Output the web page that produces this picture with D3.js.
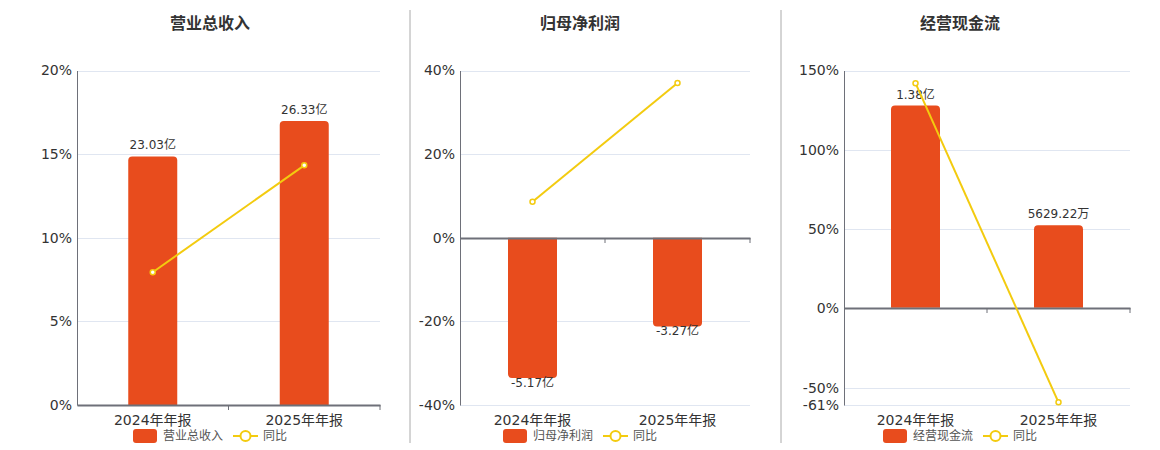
<!DOCTYPE html>
<html>
<head>
<meta charset="utf-8">
<script src="https://cdn.jsdelivr.net/npm/d3@7/dist/d3.min.js"></script>
<style>
  body { margin: 0; background: #fff; }
  svg text { font-family: "DejaVu Sans", "Noto Sans CJK SC", sans-serif; }
</style>
</head>
<body>
<svg id="chart" width="1160" height="450"></svg>
<script>
// Data
const categories = ["2024年年报", "2025年年报"];
const titles = ["营业总收入", "归母净利润", "经营现金流"];
const barNames = ["营业总收入", "归母净利润", "经营现金流"];
// bar values (亿元 for first two, 万元 for cash flow)
const revenue = [23.03, 26.33];
const netProfit = [-5.17, -3.27];
const cashFlow = [13800, 5629.22];
const barLabels = [["23.03亿", "26.33亿"], ["-5.17亿", "-3.27亿"], ["1.38亿", "5629.22万"]];
// 同比 (%)
const yoyRevenue = [7.94, 14.33];
const yoyProfit = [8.6, 37.0];
const yoyCash = [142, -59.3];
// left axis domains and ticks
const pctDomains = [[0, 20], [-40, 40], [-61, 150]];
const pctTicks = [[0, 5, 10, 15, 20], [-40, -20, 0, 20, 40], [-61, -50, 0, 50, 100, 150]];
// hidden bar axis domains (aligned at zero with left axis)
const barDomains = [[0, 31], [-6.17, 6.17], [-6640, 16190]];

const barColor = "#e84c1d";
const lineColor = "#f3cb0f";

const svg = d3.select("#chart");

// Panel placement
const panels = [
  { x0: 77, x1: 380, center: 210 },
  { x0: 460, x1: 750, center: 580 },
  { x0: 844, x1: 1130, center: 960 }
];
const plotTop = 70.5, plotBottom = 405;

const barsAll = [revenue, netProfit, cashFlow];
const yoyAll = [yoyRevenue, yoyProfit, yoyCash];

// Dividers between panels
[410, 781].forEach(x => {
  svg.append("line")
    .attr("x1", x).attr("x2", x)
    .attr("y1", 10).attr("y2", 443)
    .attr("stroke", "#aaa").attr("stroke-width", 1);
});

panels.forEach((p, i) => {
  const g = svg.append("g");

  const xScale = d3.scaleBand()
    .domain(categories)
    .range([p.x0, p.x1]);

  const yPct = d3.scaleLinear()
    .domain(pctDomains[i])
    .range([plotBottom, plotTop]);

  const yBar = d3.scaleLinear()
    .domain(barDomains[i])
    .range([plotBottom, plotTop]);

  // Title
  g.append("text")
    .attr("x", p.center)
    .attr("y", 29)
    .attr("text-anchor", "middle")
    .attr("fill", "#333")
    .style("font-size", "16px")
    .style("font-weight", "bold")
    .text(titles[i]);

  // Gridlines
  g.selectAll(".grid")
    .data(pctTicks[i])
    .enter().append("line")
    .attr("x1", p.x0).attr("x2", p.x1)
    .attr("y1", d => Math.round(yPct(d)) + 0.5)
    .attr("y2", d => Math.round(yPct(d)) + 0.5)
    .attr("stroke", "#e0e6f1");

  // Left axis
  const yAxis = d3.axisLeft(yPct)
    .tickValues(pctTicks[i])
    .tickSize(0)
    .tickPadding(5)
    .tickFormat(d => d + "%");
  const ya = g.append("g")
    .attr("transform", `translate(${p.x0},0)`)
    .call(yAxis);
  ya.select(".domain").attr("stroke", "#6e7079");
  ya.selectAll("text")
    .attr("fill", "#333")
    .style("font-size", "14px");

  // Bars
  const bw = 49;
  g.selectAll(".bar")
    .data(barsAll[i])
    .enter().append("path")
    .attr("fill", barColor)
    .attr("d", (d, j) => {
      const cx = xScale(categories[j]) + xScale.bandwidth() / 2;
      const x = cx - bw / 2;
      const y0 = yBar(0), y1 = yBar(d);
      const r = 4;
      if (d >= 0) {
        return `M${x},${y0}V${y1 + r}Q${x},${y1} ${x + r},${y1}H${x + bw - r}Q${x + bw},${y1} ${x + bw},${y1 + r}V${y0}Z`;
      }
      return `M${x},${y0}V${y1 - r}Q${x},${y1} ${x + r},${y1}H${x + bw - r}Q${x + bw},${y1} ${x + bw},${y1 - r}V${y0}Z`;
    });

  // Bar labels
  g.selectAll(".blabel")
    .data(barsAll[i])
    .enter().append("text")
    .attr("x", (d, j) => xScale(categories[j]) + xScale.bandwidth() / 2)
    .attr("y", d => d >= 0 ? yBar(d) - 7 : yBar(d) + 9)
    .attr("text-anchor", "middle")
    .attr("fill", "#333")
    .style("font-size", "12px")
    .text((d, j) => barLabels[i][j]);

  // X axis at zero
  const xAxis = d3.axisBottom(xScale).tickSize(0).tickFormat("");
  const zeroY = Math.round(yPct(0));
  const xa = g.append("g")
    .attr("transform", `translate(0,${zeroY})`)
    .call(xAxis);
  xa.select(".domain").attr("stroke", "#6e7079").attr("stroke-width", 2);
  // band boundary ticks
  const bounds = [p.x0 + xScale.bandwidth(), p.x1];
  g.selectAll(".xtick")
    .data(bounds)
    .enter().append("line")
    .attr("x1", d => d).attr("x2", d => d)
    .attr("y1", zeroY).attr("y2", zeroY + 5)
    .attr("stroke", "#6e7079");

  // Category labels at bottom
  g.selectAll(".cat")
    .data(categories)
    .enter().append("text")
    .attr("x", d => xScale(d) + xScale.bandwidth() / 2)
    .attr("y", 425)
    .attr("text-anchor", "middle")
    .attr("fill", "#333")
    .style("font-size", "14px")
    .text(d => d);

  // Line
  const line = d3.line()
    .x((d, j) => xScale(categories[j]) + xScale.bandwidth() / 2)
    .y(d => yPct(d));
  g.append("path")
    .datum(yoyAll[i])
    .attr("d", line)
    .attr("fill", "none")
    .attr("stroke", lineColor)
    .attr("stroke-width", 2);
  g.selectAll(".pt")
    .data(yoyAll[i])
    .enter().append("circle")
    .attr("cx", (d, j) => xScale(categories[j]) + xScale.bandwidth() / 2)
    .attr("cy", d => yPct(d))
    .attr("r", 2.5)
    .attr("fill", "#fff")
    .attr("stroke", lineColor)
    .attr("stroke-width", 1.5);

  // Legend
  const lg = g.append("g").attr("transform", `translate(${p.center - 77},0)`);
  lg.append("rect")
    .attr("x", 0).attr("y", 429)
    .attr("width", 24).attr("height", 14)
    .attr("rx", 3)
    .attr("fill", barColor);
  lg.append("text")
    .attr("x", 30).attr("y", 440)
    .attr("fill", "#555")
    .style("font-size", "12px")
    .text(barNames[i]);
  lg.append("line")
    .attr("x1", 100).attr("x2", 125)
    .attr("y1", 436).attr("y2", 436)
    .attr("stroke", lineColor).attr("stroke-width", 2);
  lg.append("circle")
    .attr("cx", 112.5).attr("cy", 436)
    .attr("r", 5)
    .attr("fill", "#fff")
    .attr("stroke", lineColor)
    .attr("stroke-width", 2);
  lg.append("text")
    .attr("x", 130).attr("y", 440)
    .attr("fill", "#555")
    .style("font-size", "12px")
    .text("同比");
});
</script>
</body>
</html>
